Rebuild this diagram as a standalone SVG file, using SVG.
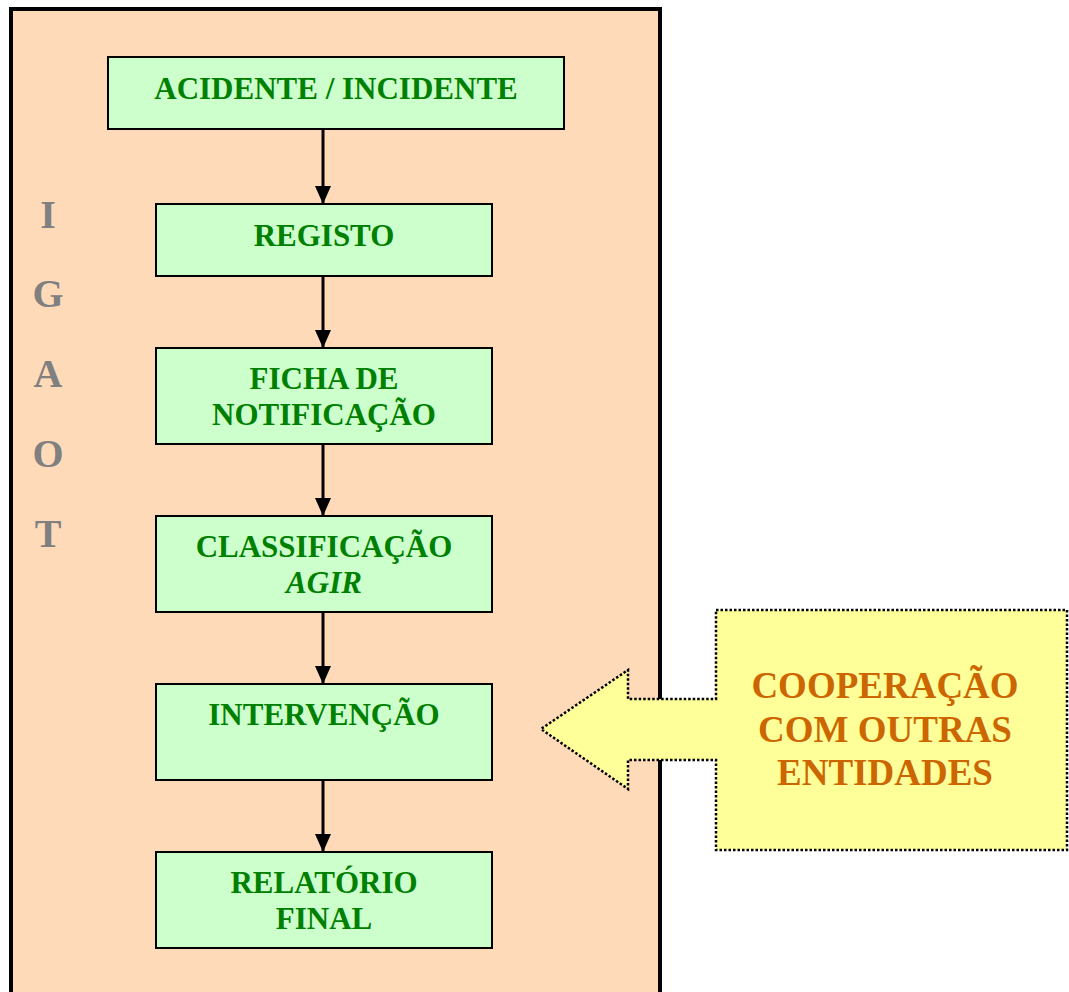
<svg xmlns="http://www.w3.org/2000/svg" width="1069" height="992" viewBox="0 0 1069 992">
<style>
.box{fill:#CCFFCC;stroke:#000;stroke-width:2}
.t{font-family:"Liberation Serif",serif;font-weight:bold;font-size:31px;fill:#008000;text-anchor:middle}
.side{font-family:"Liberation Serif",serif;font-weight:bold;font-size:40px;fill:#808080;text-anchor:middle}
.co{font-family:"Liberation Serif",serif;font-weight:bold;font-size:37px;fill:#CC6600;text-anchor:middle}
.c{stroke:#000;stroke-width:3;fill:none;marker-end:url(#ah)}
</style>
<defs>
<marker id="ah" markerWidth="20" markerHeight="18" refX="18" refY="8" orient="auto" markerUnits="userSpaceOnUse">
<path d="M0,0 L18,8 L0,16 Z" fill="#000"/>
</marker>
</defs>
<rect width="1069" height="992" fill="#fff"/>
<g id="frame">
<rect x="11" y="9" width="649" height="1000" fill="#FFDAB9" stroke="#000" stroke-width="4"/>
</g>
<g id="igaot">
<text class="side" x="48" y="228">I</text>
<text class="side" x="48" y="307">G</text>
<text class="side" x="48" y="387">A</text>
<text class="side" x="48" y="467">O</text>
<text class="side" x="48" y="547">T</text>
</g>
<g id="connectors">
<line class="c" x1="323" y1="129" x2="323" y2="204"/>
<line class="c" x1="323" y1="276" x2="323" y2="348"/>
<line class="c" x1="323" y1="444" x2="323" y2="516"/>
<line class="c" x1="323" y1="612" x2="323" y2="684"/>
<line class="c" x1="323" y1="780" x2="323" y2="852"/>
</g>
<g id="n1">
<rect class="box" x="108" y="57" width="456" height="72"/>
<text class="t" x="336" y="99">ACIDENTE / INCIDENTE</text>
</g>
<g id="n2">
<rect class="box" x="156" y="204" width="336" height="72"/>
<text class="t" x="324" y="246">REGISTO</text>
</g>
<g id="n3">
<rect class="box" x="156" y="348" width="336" height="96"/>
<text class="t" x="324" y="389">FICHA DE</text>
<text class="t" x="324" y="425">NOTIFICAÇÃO</text>
</g>
<g id="n4">
<rect class="box" x="156" y="516" width="336" height="96"/>
<text class="t" x="324" y="557">CLASSIFICAÇÃO</text>
<text class="t" x="324" y="593" font-style="italic">AGIR</text>
</g>
<g id="n5">
<rect class="box" x="156" y="684" width="336" height="96"/>
<text class="t" x="324" y="725">INTERVENÇÃO</text>
</g>
<g id="n6">
<rect class="box" x="156" y="852" width="336" height="96"/>
<text class="t" x="324" y="893">RELATÓRIO</text>
<text class="t" x="324" y="929">FINAL</text>
</g>
<g id="cooperacao">
<path d="M716,610 L1067,610 L1067,850 L716,850 L716,760 L628,760 L628,789 L541,729 L628,670 L628,699 L716,699 Z" fill="#FFFF99" stroke="#000" stroke-width="2.5" stroke-dasharray="2.5,2"/>
<text class="co" x="885" y="698">COOPERAÇÃO</text>
<text class="co" x="885" y="742">COM OUTRAS</text>
<text class="co" x="885" y="785">ENTIDADES</text>
</g>
</svg>
